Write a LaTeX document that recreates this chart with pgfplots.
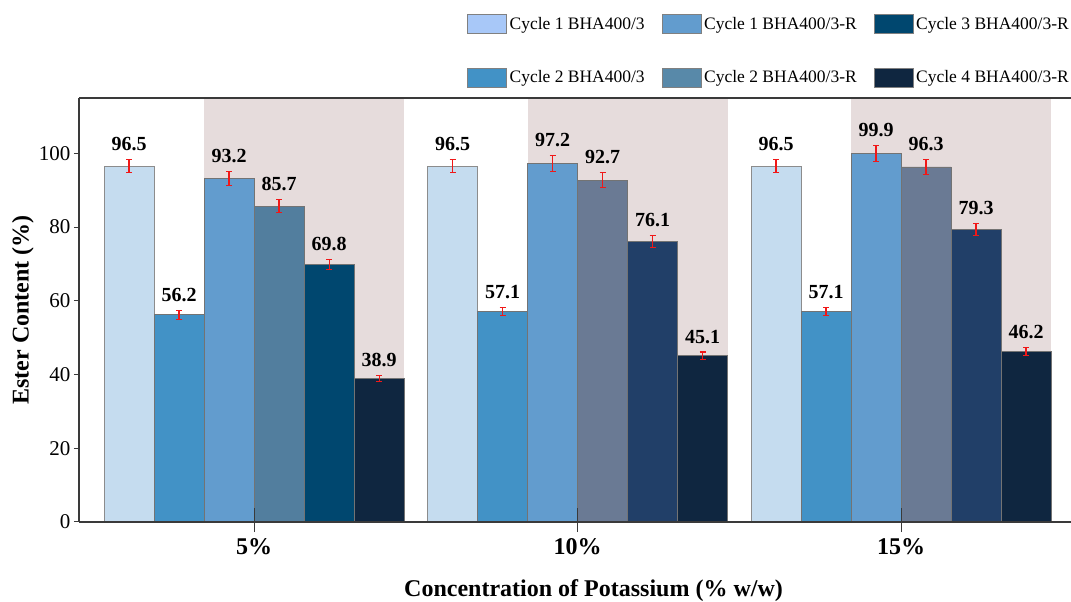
\documentclass[border=0pt]{standalone}
\usepackage{fontspec}
\setmainfont{Liberation Serif}
\usepackage{pgfplots}
\pgfplotsset{compat=1.18}
\usepackage{pgfplotstable}

\definecolor{cA}{HTML}{C5DCEF}
\definecolor{cB}{HTML}{4292C6}
\definecolor{cC}{HTML}{629CCE}
\definecolor{cDa}{HTML}{527E9E}
\definecolor{cDb}{HTML}{6A7A94}
\definecolor{cEa}{HTML}{00476F}
\definecolor{cEb}{HTML}{213F68}
\definecolor{cF}{HTML}{0F2640}
\definecolor{lA}{HTML}{A8C8F8}
\definecolor{lD}{HTML}{5889A9}
\definecolor{shade}{HTML}{E6DCDC}
\definecolor{errred}{HTML}{F01818}
\definecolor{axgray}{HTML}{3A3A3A}

\pgfplotstableread{
x y e
-0.3865 96.5 1.8
0.6135 96.5 1.8
1.6135 96.5 1.8
}\sA
\pgfplotstableread{
x y e
-0.2319 56.2 1.2
0.7681 57.1 1.1
1.7681 57.1 1.1
}\sB
\pgfplotstableread{
x y e
-0.0773 93.2 1.9
0.9227 97.2 2.1
1.9227 99.9 2.2
}\sC
\pgfplotstableread{
x y e
0.0773 85.7 1.7
}\sDa
\pgfplotstableread{
x y e
1.0773 92.7 2.0
2.0773 96.3 2.1
}\sDb
\pgfplotstableread{
x y e
0.2319 69.8 1.4
}\sEa
\pgfplotstableread{
x y e
1.2319 76.1 1.6
2.2319 79.3 1.7
}\sEb
\pgfplotstableread{
x y e
0.3865 38.9 0.8
1.3865 45.1 1.0
2.3865 46.2 1.1
}\sF

\pgfplotsset{
  mybar/.style={ybar, bar width=0.1546, bar shift=0pt, draw=black!55, line width=0.7pt, forget plot,
    visualization depends on={\thisrow{e} \as \myerr},
    nodes near coords={\pgfmathprintnumber[fixed,fixed zerofill,precision=1]{\pgfplotspointmeta}},
    every node near coord/.append style={font=\bfseries\fontsize{20}{22}\selectfont, anchor=south, yshift=\myerr*3.687pt+5pt, text=black}},
  myerr/.style={forget plot, draw=none, mark=none,
    error bars/y dir=both, error bars/y explicit,
    error bars/error mark=-,
    error bars/error bar style={draw=errred, line width=1.2pt, solid},
    error bars/error mark options={draw=errred, mark size=3pt, line width=1.1pt, rotate=90}},
}

\begin{document}
\begin{tikzpicture}
\useasboundingbox (0,0) rectangle (1071pt,602pt);
\begin{axis}[
  at={(79pt,80pt)}, anchor=south west,
  width=992pt, height=424pt, scale only axis,
  xmin=-0.5413, xmax=2.5255,
  ymin=0, ymax=115,
  axis x line=box, axis y line=left,
  axis line style={-, draw=axgray, line width=1.3pt},
  axis on top,
  xtick={0,1,2}, xticklabels={5\%,10\%,15\%},
  ytick={0,20,40,60,80,100},
  xtick pos=bottom,
  tick align=outside, major tick length=5pt,
  xtick style={/pgfplots/major tick length=24pt, yshift=14pt, draw=axgray, line width=1pt},
  ytick style={draw=axgray, line width=1pt},
  /pgf/number format/assume math mode=true,
  y tick label style={font=\fontsize{21}{24}\selectfont},
  x tick label style={font=\bfseries\fontsize{24}{28}\selectfont, yshift=-8pt},
  xlabel={Concentration of Potassium (\% w/w)},
  ylabel={Ester Content (\%)},
  every axis x label/.style={at={(axis description cs:0.5187,0)}, anchor=base, yshift=-75pt, font=\bfseries\fontsize{24}{28}\selectfont},
  every axis y label/.style={at={(axis description cs:-0.0565,0.5)}, rotate=90, anchor=center, font=\bfseries\fontsize{24}{28}\selectfont},
  legend image code/.code={\draw[#1] (0pt,-9.5pt) rectangle (39pt,9.5pt);},
  legend columns=3,
  legend style={at={(axis description cs:1.0,1.198)}, anchor=north east, draw=none, fill=none,
    inner sep=0pt, font=\fontsize{17.5}{20}\selectfont, column sep=1pt, row sep=34pt,
    /tikz/every even column/.append style={column sep=15pt}},
  legend cell align=left,
]
% shaded backgrounds
\addplot[fill=shade, draw=none, forget plot] coordinates {(-0.1546,115) (0.4638,115)} \closedcycle;
\addplot[fill=shade, draw=none, forget plot] coordinates {(0.8454,115) (1.4638,115)} \closedcycle;
\addplot[fill=shade, draw=none, forget plot] coordinates {(1.8454,115) (2.4638,115)} \closedcycle;

\addplot[mybar, fill=cA, draw=black!45] table[x=x, y=y] {\sA};
\addplot[mybar, fill=cB] table[x=x, y=y] {\sB};
\addplot[mybar, fill=cC] table[x=x, y=y] {\sC};
\addplot[mybar, fill=cDa] table[x=x, y=y] {\sDa};
\addplot[mybar, fill=cDb] table[x=x, y=y] {\sDb};
\addplot[mybar, fill=cEa] table[x=x, y=y] {\sEa};
\addplot[mybar, fill=cEb] table[x=x, y=y] {\sEb};
\addplot[mybar, fill=cF] table[x=x, y=y] {\sF};

\addplot[myerr] table[x=x, y=y, y error=e] {\sA};
\addplot[myerr] table[x=x, y=y, y error=e] {\sB};
\addplot[myerr] table[x=x, y=y, y error=e] {\sC};
\addplot[myerr] table[x=x, y=y, y error=e] {\sDa};
\addplot[myerr] table[x=x, y=y, y error=e] {\sDb};
\addplot[myerr] table[x=x, y=y, y error=e] {\sEa};
\addplot[myerr] table[x=x, y=y, y error=e] {\sEb};
\addplot[myerr] table[x=x, y=y, y error=e] {\sF};

\addlegendimage{fill=lA, draw=black!50}
\addlegendentry{Cycle 1 BHA400/3}
\addlegendimage{fill=cC, draw=black!50}
\addlegendentry{Cycle 1 BHA400/3-R}
\addlegendimage{fill=cEa, draw=black!50}
\addlegendentry{Cycle 3 BHA400/3-R}
\addlegendimage{fill=cB, draw=black!50}
\addlegendentry{Cycle 2 BHA400/3}
\addlegendimage{fill=lD, draw=black!50}
\addlegendentry{Cycle 2 BHA400/3-R}
\addlegendimage{fill=cF, draw=black!50}
\addlegendentry{Cycle 4 BHA400/3-R}
\end{axis}
\end{tikzpicture}
\end{document}
